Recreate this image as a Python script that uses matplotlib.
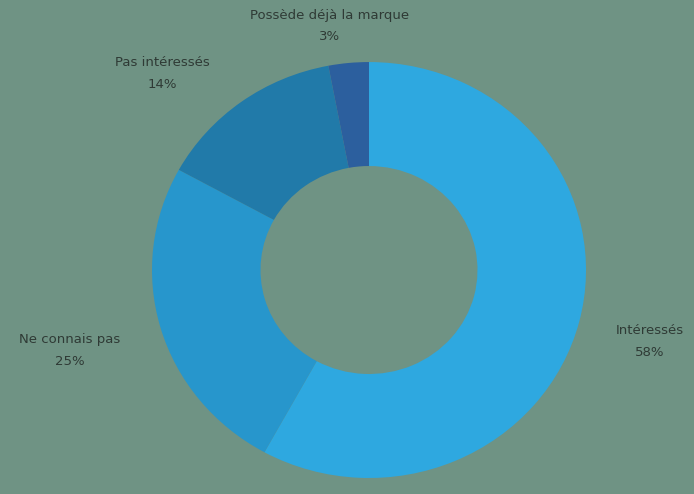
import matplotlib
matplotlib.use("Agg")
import matplotlib.pyplot as plt

labels = ["Intéressés", "Ne connais pas", "Pas intéressés", "Possède déjà la marque"]
values = [58, 25, 14, 3]
colors = ["#2ea8e0", "#2796cc", "#217aa9", "#2c5f9e"]
bg = "#6f9384"

fig = plt.figure(figsize=(6.94, 4.94), dpi=100, facecolor=bg)
ax = fig.add_axes([0.2190, 0.0324, 0.6254, 0.842])
ax.set_facecolor(bg)
ax.pie(values, colors=colors, startangle=90, counterclock=False,
       wedgeprops=dict(width=0.5, edgecolor="none"), radius=1.0)
ax.set_aspect("auto")
ax.set_xlim(-1, 1)
ax.set_ylim(-1, 1)
ax.axis("off")

# label block centres in pixels (x, y from top)
label_pos = [(650, 341), (70, 350), (162, 74), (330, 26)]
for lab, v, (px, py) in zip(labels, values, label_pos):
    fig.text(px / 694, 1 - py / 494, f"{lab}\n{v}%", ha="center", va="center",
             fontsize=9.5, color="#2f3a35", linespacing=1.9)

fig.savefig("out.png", dpi=100, facecolor=bg)
